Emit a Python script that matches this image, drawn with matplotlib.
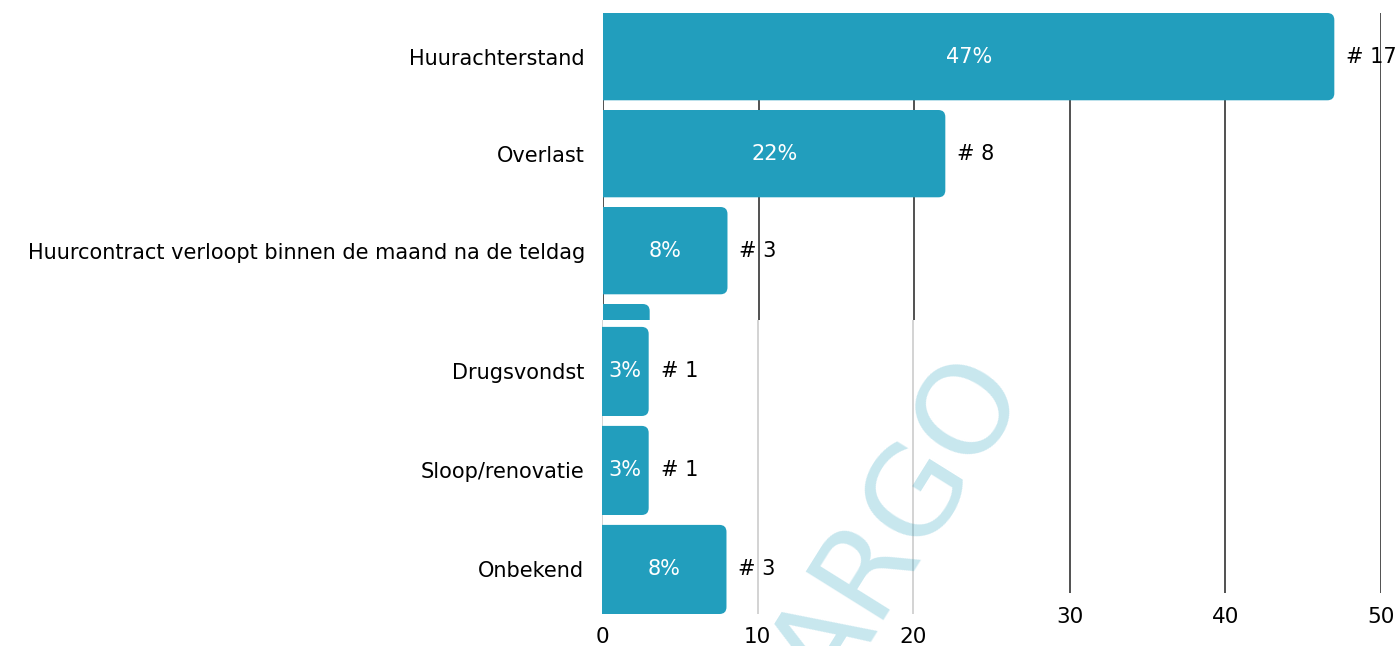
import matplotlib
matplotlib.use('Agg')
import matplotlib.pyplot as plt
from matplotlib.patches import FancyBboxPatch

#%% Data

categories = ['Huurachterstand', 'Overlast',
              'Huurcontract verloopt binnen de maand na de teldag',
              'Drugsvondst', 'Sloop/renovatie', 'Onbekend']
percentages = [47, 22, 8, 3, 3, 8]
counts = [17, 8, 3, 1, 1, 3]
xticks = [0, 10, 20, 30, 40, 50]

#%% Style

plt.rcParams['font.family'] = ['DejaVu Sans']
plt.rcParams['font.size'] = 15
bar_color = '#229EBD'

W, H = 1397, 646
split = 3          # rows from here on are drawn in the shifted lower panel


def box(x0, y_top, x1, y_bot):
    # figure-fraction rect from pixel edges
    return [x0 / W, 1 - y_bot / H, (x1 - x0) / W, (y_bot - y_top) / H]


def draw(ax, rows, grid_color, clip, tick_pad, xmax):
    ax.set_xlim(0, xmax)
    bbox = ax.get_position()
    px_x = bbox.width * W / xmax
    y0, y1 = ax.get_ylim()
    px_y = bbox.height * H / abs(y0 - y1)
    r = 7 / px_x
    for i, (p, c) in enumerate(zip(percentages, counts)):
        bar = FancyBboxPatch((-r, i - 0.45), p + r, 0.9,
                             boxstyle='round,pad=0,rounding_size=%f' % r,
                             mutation_aspect=px_x / px_y,
                             facecolor=bar_color, edgecolor='none', zorder=2)
        ax.add_patch(bar)
        ax.text(p / 2, i, '%d%%' % p, color='white', ha='center', va='center',
                zorder=3, clip_on=clip)
        ax.annotate('# %d' % c, xy=(p, i), xytext=(8.6, 0),
                    textcoords='offset points', va='center', zorder=3,
                    annotation_clip=clip, clip_on=clip)
    ax.set_yticks(list(rows), labels=[categories[k] for k in rows])
    ax.set_xticks([t for t in xticks if t <= xmax])
    ax.grid(axis='x', color=grid_color, lw=1.1, zorder=1)
    ax.set_axisbelow(True)
    for s in ax.spines.values():
        s.set_visible(False)
    ax.tick_params(axis='y', length=0, pad=13)
    ax.tick_params(axis='x', length=0, pad=tick_pad, labelsize=15.5)


fig = plt.figure(figsize=(13.97, 6.46), dpi=100)

# upper panel: full chart, black grid
ax1 = fig.add_axes(box(603, 13, 1381, 593))
ax1.set_ylim(-0.45 + 580 / 97, -0.45)
draw(ax1, range(split), '#222222', False, 10, 50)
ax1.set_xticks(xticks, labels=[str(t) if t > 25 else '' for t in xticks])

# lower-left panel: shifted copy, light grid
ax2 = fig.add_axes(box(602, 320, 602 + 25 * 778 / 50, 614))
ax2.set_facecolor('white')
ax2.set_ylim(5.45, 5.45 - 294 / 99)
draw(ax2, range(split, len(categories)), '#c8c8c8', True, 9.5, 25)

# watermark
fig.text(900 / W, 1 - 528 / H, 'ARGO', fontsize=90, fontweight='normal',
         color=bar_color, alpha=0.25, rotation=58,
         ha='center', va='center', zorder=5)

plt.savefig('out.png', dpi=100)
plt.close()
